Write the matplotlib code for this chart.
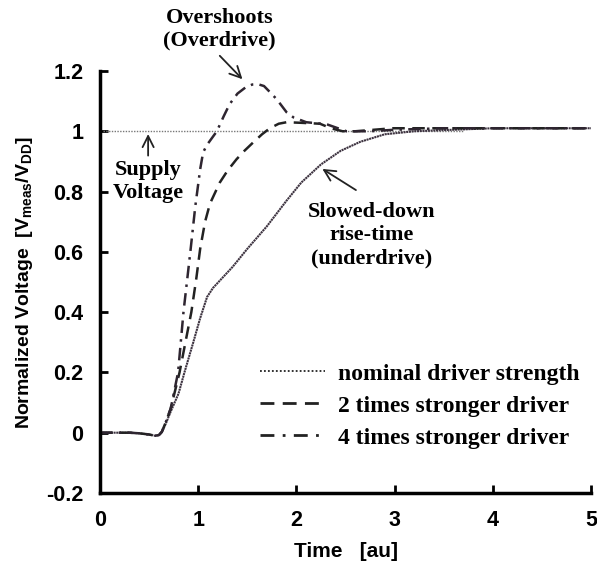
import numpy as np
import matplotlib.pyplot as plt
from matplotlib.lines import Line2D

plt.rcParams['mathtext.fontset'] = 'custom'
plt.rcParams['mathtext.rm'] = 'Liberation Sans:bold'
plt.rcParams['mathtext.bf'] = 'Liberation Sans:bold'

# (time in au, voltage normalised to VDD)
t_nom = [0, 0.3, 0.4, 0.5, 0.56, 0.6, 0.63, 0.67, 0.72, 0.8, 0.86, 0.95, 1.02, 1.09,
         1.15, 1.25, 1.35, 1.5, 1.7, 1.9, 2.05, 2.25, 2.45, 2.65, 2.9, 3.2, 3.6, 4.0, 5.0]
v_nom = [0, 0, -0.002, -0.006, -0.01, -0.008, 0.002, 0.03, 0.07, 0.13, 0.2, 0.3, 0.38,
         0.45, 0.48, 0.515, 0.55, 0.61, 0.685, 0.77, 0.83, 0.89, 0.935, 0.965, 0.99,
         1.0, 1.005, 1.01, 1.01]

t_2x = [0, 0.3, 0.4, 0.5, 0.56, 0.6, 0.63, 0.67, 0.72, 0.81, 0.87, 0.93, 0.98, 1.02,
        1.07, 1.12, 1.22, 1.3, 1.39, 1.47, 1.56, 1.65, 1.73, 1.82, 1.9, 2.05, 2.24, 2.35,
        2.47, 2.6, 2.98, 3.5, 4.0, 5.0]
v_2x = [0, 0, -0.002, -0.006, -0.01, -0.008, 0.003, 0.035, 0.08, 0.2, 0.3, 0.4, 0.51,
        0.61, 0.7, 0.76, 0.83, 0.87, 0.907, 0.935, 0.963, 0.99, 1.01, 1.025, 1.03, 1.028,
        1.025, 1.01, 1.0, 1.0, 1.01, 1.01, 1.01, 1.01]

t_4x = [0, 0.3, 0.4, 0.5, 0.56, 0.6, 0.63, 0.67, 0.72, 0.795, 0.85, 0.92, 0.97, 1.02,
        1.05, 1.09, 1.19, 1.26, 1.32, 1.4, 1.48, 1.55, 1.61, 1.67, 1.73, 1.8, 1.9, 1.97,
        2.1, 2.31, 2.51, 2.75, 3.0, 3.5, 4.0, 5.0]
v_4x = [0, 0, -0.002, -0.006, -0.01, -0.008, 0.003, 0.035, 0.08, 0.2, 0.4, 0.6, 0.75,
        0.874, 0.93, 0.955, 1.0, 1.05, 1.09, 1.125, 1.145, 1.155, 1.156, 1.15, 1.13,
        1.106, 1.063, 1.046, 1.03, 1.023, 1.0, 1.0, 1.005, 1.01, 1.01, 1.01]

supply_t = [0.03, 3.7]
supply_v = [1.0, 1.0]

labels = ["nominal driver strength", "2 times stronger driver", "4 times stronger driver"]

fig = plt.figure(figsize=(5.97, 5.77), dpi=100)
ax = fig.add_axes([0.1675, 0.1456, 0.8225, 0.7314])

ax.plot(supply_t, supply_v, color='#777777', lw=1.0, linestyle=(0, (1, 1)))
ax.plot(t_nom, v_nom, color='#3d3340', lw=1.5, linestyle=(0, (1, 0.3)))
ax.plot(t_2x, v_2x, color='#222222', lw=1.8, linestyle=(0, (5, 3)))
ax.plot(t_4x, v_4x, color='#2e2530', lw=1.8, linestyle=(0, (5, 2.5, 1, 2.5)))

ax.set_xlim(0, 5)
ax.set_ylim(-0.2, 1.2)
ax.set_xticks([0, 1, 2, 3, 4, 5])
ax.set_yticks([-0.2, 0, 0.2, 0.4, 0.6, 0.8, 1.0, 1.2])
ax.set_yticklabels(['-0.2', '0', '0.2', '0.4', '0.6', '0.8', '1', '1.2'])

for s in ['top', 'right']:
    ax.spines[s].set_visible(False)
for s in ['left', 'bottom']:
    ax.spines[s].set_linewidth(2.5)
ax.tick_params(direction='in', length=6, width=2, pad=12)
for lab in ax.get_xticklabels() + ax.get_yticklabels():
    lab.set_fontfamily('Liberation Sans')
    lab.set_fontweight('bold')
    lab.set_fontsize(15.5)

ax.set_xlabel("Time   [au]", fontfamily='Liberation Sans', fontweight='bold', fontsize=15, labelpad=8)
ax.set_ylabel(r"Normalized Voltage  [V$_{\mathbf{meas}}$/V$_{\mathbf{DD}}$]",
              fontfamily='Liberation Sans', fontweight='bold', fontsize=14, labelpad=8)

handles = [
    Line2D([], [], color='#222222', lw=1.3, linestyle=(0, (1, 1.2))),
    Line2D([], [], color='#222222', lw=2.0, linestyle=(0, (5, 3))),
    Line2D([], [], color='#222222', lw=2.0, linestyle=(0, (5, 3, 1, 3))),
]
ax.legend(handles, labels, loc='lower right', bbox_to_anchor=(1.02, 0.055), frameon=False,
          handlelength=2.75, handletextpad=0.55, labelspacing=0.44,
          prop={'family': 'Liberation Serif', 'weight': 'bold', 'size': 17})

txt = dict(fontfamily='Liberation Serif', fontweight='bold', fontsize=16, ha='center',
           va='center', linespacing=1.2)
arrow = dict(arrowstyle='->', color='#222222', lw=1.3, mutation_scale=20)
ax.text(1.22, 1.339, "Overshoots\n(Overdrive)", clip_on=False, **txt)
ax.annotate("", xy=(1.47, 1.166), xytext=(1.2, 1.257), arrowprops=arrow, annotation_clip=False)
ax.text(0.49, 0.834, "Supply\nVoltage", **txt)
ax.annotate("", xy=(0.49, 1.0), xytext=(0.49, 0.91), arrowprops=arrow)
ax.text(2.77, 0.655, "Slowed-down\nrise-time\n(underdrive)", **txt)
ax.annotate("", xy=(2.24, 0.88), xytext=(2.63, 0.8), arrowprops=arrow)

fig.savefig("out.png", dpi=100)
